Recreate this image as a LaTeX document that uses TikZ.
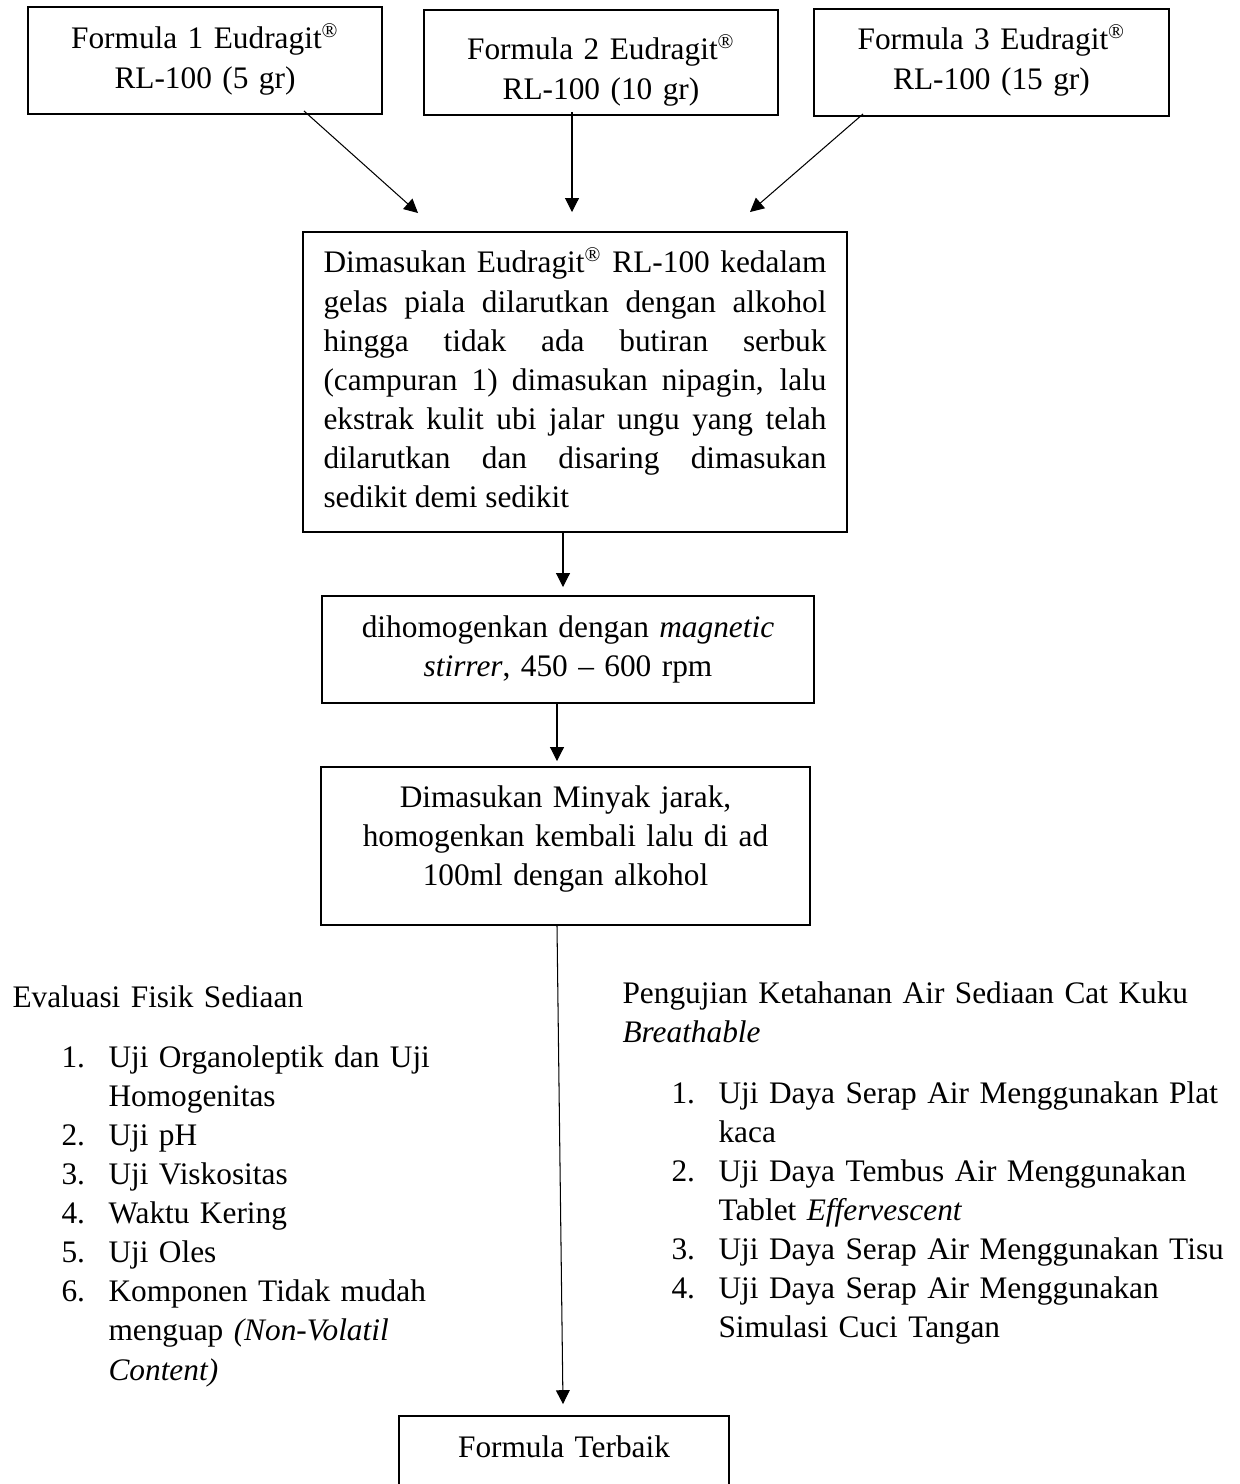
\documentclass[tikz,border=0pt]{standalone}
\usepackage{fontspec}
\setmainfont{Liberation Serif}
\usetikzlibrary{arrows.meta, calc}
\newlength{\pxu}
\setlength{\pxu}{0.383pt}
\hyphenpenalty=10000
\exhyphenpenalty=10000
\tolerance=9999
\newcommand{\numitem}[2]{\hspace*{49\pxu}\makebox[47\pxu][l]{#1}#2}
\newcommand{\moreitem}[1]{\hspace*{96\pxu}#1}

\begin{document}
\begin{tikzpicture}[
        x=\pxu, y=-\pxu,
        every node/.style={
            font=\fontsize{12}{14.98}\selectfont,
        },
        box/.style={
            draw,
            rectangle,
            line width=0.75pt,
            anchor=base,
            inner ysep=0pt,
            align=center,
        },
        justbox/.style={
            box,
            align=justify,
        },
        plain/.style={
            anchor=base west,
            inner sep=0pt,
            align=left,
        },
        arr/.style={
            -{Triangle[length=5.3pt, width=5.3pt]},
            line width=0.4pt,
        },
    ]

    \useasboundingbox (0, 0) rectangle (1239, 1484);
    \fill[white] (0, 0) rectangle (1239, 1484);

    \node[box, minimum width=354*\pxu, text width=330*\pxu,
        text height=42*\pxu, text depth=65*\pxu] (f1) at (205, 49)
        {Formula 1 Eudragit\textsuperscript{®}\\RL-100 (5 gr)};
    \node[box, minimum width=354*\pxu, text width=330*\pxu,
        text height=50*\pxu, text depth=55*\pxu] (f2) at (601, 60)
        {Formula 2 Eudragit\textsuperscript{®}\\RL-100 (10 gr)};
    \node[box, minimum width=355*\pxu, text width=330*\pxu,
        text height=41*\pxu, text depth=66*\pxu] (f3) at (991.5, 50)
        {Formula 3 Eudragit\textsuperscript{®}\\RL-100 (15 gr)};

    \node[justbox, minimum width=544*\pxu, text width=503*\pxu,
        text height=41*\pxu, text depth=259*\pxu] (mix) at (575, 273)
        {Dimasukan Eudragit\textsuperscript{®} RL-100 kedalam\linebreak
        gelas piala dilarutkan dengan alkohol\linebreak
        hingga tidak ada butiran serbuk\linebreak
        (campuran 1) dimasukan nipagin, lalu\linebreak
        ekstrak kulit ubi jalar ungu yang telah\linebreak
        dilarutkan dan disaring dimasukan\linebreak
        sedikit demi sedikit};

    \node[box, minimum width=492*\pxu, text width=470*\pxu,
        text height=41*\pxu, text depth=66*\pxu] (stir) at (568, 637)
        {dihomogenkan dengan \textit{magnetic}\\\textit{stirrer}, 450 -- 600 rpm};

    \node[box, minimum width=489*\pxu, text width=470*\pxu,
        text height=40*\pxu, text depth=118*\pxu] (oil) at (565.5, 807)
        {Dimasukan Minyak jarak,\\homogenkan kembali lalu di ad\\100ml dengan alkohol};

    \node[box, minimum width=330*\pxu, text width=310*\pxu,
        text height=41*\pxu, text depth=38*\pxu] (best) at (564, 1457)
        {Formula Terbaik};

    % evaluasi di kiri, uji air di kanan
    \node[plain, text width=520*\pxu] (evalfisik) at (12, 1007)
        {Evaluasi Fisik Sediaan\\[21\pxu]
        \numitem{1.}{Uji Organoleptik dan Uji}\\
        \moreitem{Homogenitas}\\
        \numitem{2.}{Uji pH}\\
        \numitem{3.}{Uji Viskositas}\\
        \numitem{4.}{Waktu Kering}\\
        \numitem{5.}{Uji Oles}\\
        \numitem{6.}{Komponen Tidak mudah}\\
        \moreitem{menguap \textit{(Non-Volatil}}\\
        \moreitem{\textit{Content)}}};

    \node[plain, text width=640*\pxu] (ujiair) at (622, 1003)
        {Pengujian Ketahanan Air Sediaan Cat Kuku\\
        \textit{Breathable}\\[22\pxu]
        \numitem{1.}{Uji Daya Serap Air Menggunakan Plat}\\
        \moreitem{kaca}\\
        \numitem{2.}{Uji Daya Tembus Air Menggunakan}\\
        \moreitem{Tablet \textit{Effervescent}}\\
        \numitem{3.}{Uji Daya Serap Air Menggunakan Tisu}\\
        \numitem{4.}{Uji Daya Serap Air Menggunakan}\\
        \moreitem{Simulasi Cuci Tangan}};

    \draw[arr] ($(f1.south east)+(-79, -4)$) -- ($(mix.north west)+(116, -18)$);
    \draw[arr] ($(f2.south)+(-29, -4)$) -- ($(mix.north)+(-3, -19)$);
    \draw[arr] ($(f3.south west)+(50, -3)$) -- ($(mix.north east)+(-98, -19)$);
    \draw[arr] ($(mix.south)+(-12, 0)$) -- ($(stir.north)+(-5, -8)$);
    \draw[arr] ($(stir.south)+(-11, 0)$) -- ($(oil.north)+(-8.5, -5)$);
    \draw[arr] ($(oil.south)+(-8.5, 0)$) -- ($(best.north)+(-1, -11)$);
\end{tikzpicture}
\end{document}
